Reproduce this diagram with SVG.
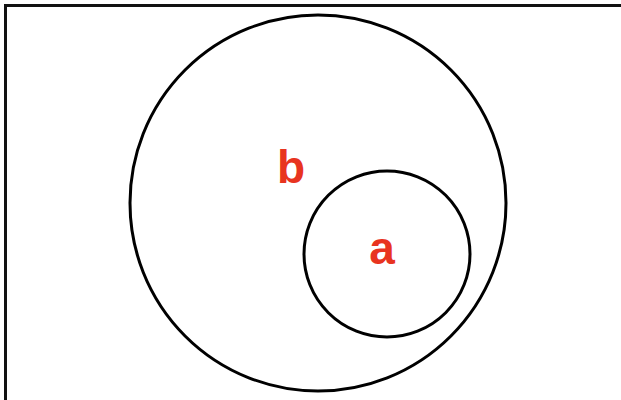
<svg xmlns="http://www.w3.org/2000/svg" width="621" height="400" viewBox="0 0 621 400">
<style>
.c{fill:none;stroke:#000;stroke-width:3}
.l{fill:#e8341f;font-family:"Liberation Sans",Arial,sans-serif;font-weight:bold;font-size:46px;text-anchor:middle}
</style>
<rect width="621" height="400" fill="#fff"/>
<g id="frame"><path d="M5.5,400 V5.5 H621" fill="none" stroke="#111" stroke-width="3"/></g>
<g id="b"><circle class="c" cx="318" cy="203" r="188"/><text class="l" x="291" y="183">b</text></g>
<g id="a"><circle class="c" cx="387" cy="254" r="83"/><text class="l" x="382" y="264">a</text></g>
</svg>
